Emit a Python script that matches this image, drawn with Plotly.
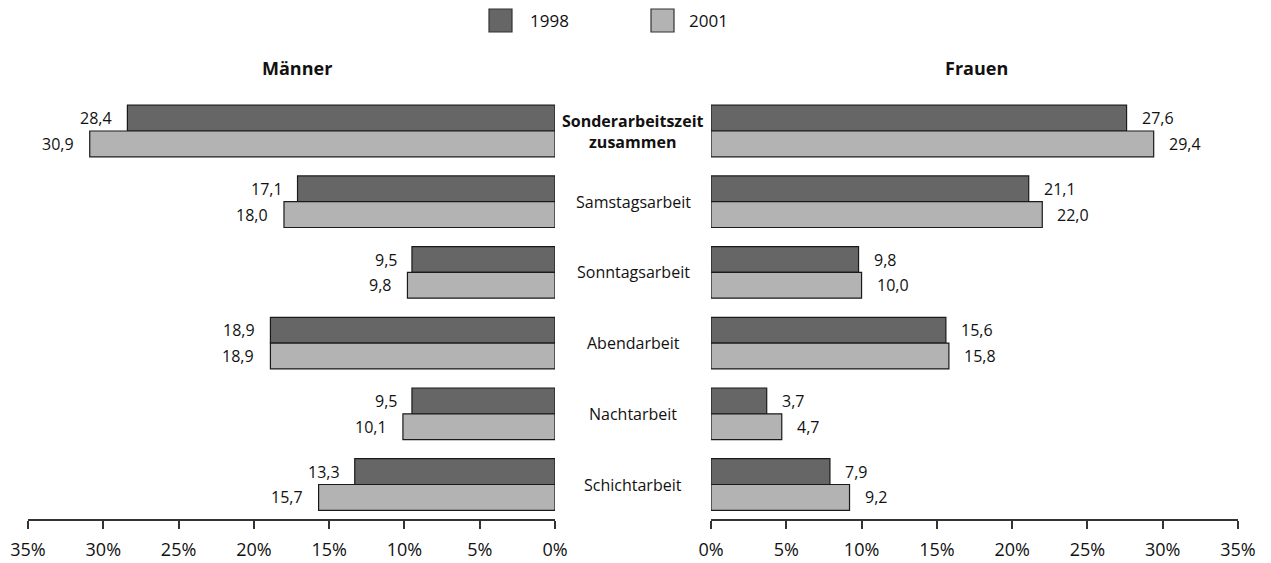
import plotly.graph_objects as go

categories = ["Sonderarbeitszeit zusammen", "Samstagsarbeit", "Sonntagsarbeit",
              "Abendarbeit", "Nachtarbeit", "Schichtarbeit"]
cat_labels = ["<b>Sonderarbeitszeit<br>zusammen</b>", "Samstagsarbeit", "Sonntagsarbeit",
              "Abendarbeit", "Nachtarbeit", "Schichtarbeit"]
years = ["1998", "2001"]
maenner_1998 = [28.4, 17.1, 9.5, 18.9, 9.5, 13.3]
maenner_2001 = [30.9, 18.0, 9.8, 18.9, 10.1, 15.7]
frauen_1998 = [27.6, 21.1, 9.8, 15.6, 3.7, 7.9]
frauen_2001 = [29.4, 22.0, 10.0, 15.8, 4.7, 9.2]
tick_vals = [0, 5, 10, 15, 20, 25, 30, 35]
tick_text = ["0%", "5%", "10%", "15%", "20%", "25%", "30%", "35%"]

# page body has an 8px default margin; figure placed at (8, 8)
OFF = 8
W, H = 1271 - OFF, 563 - OFF
FONT = "Open Sans"
c1998 = "#666666"
c2001 = "#b3b3b3"
line_col = "#1a1a1a"

def px_x(p):
    return (p - OFF) / W

def px_y(p):
    return 1 - (p - OFF) / H

fig = go.Figure()

idx = list(range(len(categories)))
for vals, col, name, xa, ya in [
    (maenner_1998, c1998, years[0], "x", "y"),
    (maenner_2001, c2001, years[1], "x", "y"),
    (frauen_1998, c1998, years[0], "x2", "y2"),
    (frauen_2001, c2001, years[1], "x2", "y2"),
]:
    fig.add_trace(go.Bar(
        x=vals, y=idx, orientation="h", name=name,
        marker=dict(color=col, line=dict(color=line_col, width=1.2)),
        xaxis=xa, yaxis=ya, showlegend=False, hoverinfo="x+name",
    ))

bargap = 0.27
bw = (1 - bargap) / 2
ydom = [px_y(519), px_y(95.65)]
yrange = [5.488, -0.5]

xcommon = dict(tickmode="array", tickvals=tick_vals, ticktext=tick_text,
               showgrid=False, zeroline=False, showline=True,
               linecolor="#333333", linewidth=1.5, ticks="outside", ticklen=8,
               tickcolor="#333333", tickwidth=1.5, tickfont=dict(size=18, color="#111111"),
               ticklabelstandoff=6, fixedrange=True, automargin=False)
ycommon = dict(range=yrange, showticklabels=False, showgrid=False, domain=ydom,
               zeroline=False, showline=False, fixedrange=True, automargin=False)

fig.update_layout(
    width=W, height=H,
    margin=dict(l=0, r=0, t=0, b=0, autoexpand=False),
    paper_bgcolor="white", plot_bgcolor="white",
    barmode="group", bargap=bargap, bargroupgap=0,
    font=dict(family=FONT, size=16, color="#111111"),
    xaxis=dict(domain=[px_x(28), px_x(555)], range=[35, 0], anchor="y", **xcommon),
    xaxis2=dict(domain=[px_x(711), px_x(1238)], range=[0, 35], anchor="y2", **xcommon),
    yaxis=dict(anchor="x", **ycommon),
    yaxis2=dict(anchor="x2", **ycommon),
)

ann = []
for i, lab in enumerate(cat_labels):
    ann.append(dict(x=px_x(633), xref="paper", y=i, yref="y", text=lab, showarrow=False,
                    xanchor="center", yanchor="middle", font=dict(size=16)))

def fmt(v):
    return f"{v:.1f}".replace(".", ",")

off = bw / 2
for i in idx:
    ann.append(dict(x=maenner_1998[i], xref="x", y=i - off, yref="y", text=fmt(maenner_1998[i]),
                    showarrow=False, xanchor="right", xshift=-13, font=dict(size=16)))
    ann.append(dict(x=maenner_2001[i], xref="x", y=i + off, yref="y", text=fmt(maenner_2001[i]),
                    showarrow=False, xanchor="right", xshift=-14, font=dict(size=16)))
    ann.append(dict(x=frauen_1998[i], xref="x2", y=i - off, yref="y2", text=fmt(frauen_1998[i]),
                    showarrow=False, xanchor="left", xshift=13, font=dict(size=16)))
    ann.append(dict(x=frauen_2001[i], xref="x2", y=i + off, yref="y2", text=fmt(frauen_2001[i]),
                    showarrow=False, xanchor="left", xshift=13, font=dict(size=16)))

ann.append(dict(x=px_x(297), xref="paper", y=px_y(68), yref="paper", text="<b>Männer</b>",
                showarrow=False, xanchor="center", yanchor="middle", font=dict(size=18)))
ann.append(dict(x=px_x(976), xref="paper", y=px_y(68), yref="paper", text="<b>Frauen</b>",
                showarrow=False, xanchor="center", yanchor="middle", font=dict(size=18)))

shapes = []
for (x0, col, txt, tx) in [(489, c1998, years[0], 528), (651, c2001, years[1], 687)]:
    shapes.append(dict(type="rect", xref="paper", yref="paper",
                       x0=px_x(x0), x1=px_x(x0 + 23), y0=px_y(32), y1=px_y(9),
                       fillcolor=col, line=dict(color="#333333", width=1.2)))
    ann.append(dict(x=px_x(tx), xref="paper", y=px_y(21), yref="paper", text=txt,
                    showarrow=False, xanchor="left", yanchor="middle", font=dict(size=17)))

fig.update_layout(annotations=ann, shapes=shapes)
fig.write_html("out.html")
